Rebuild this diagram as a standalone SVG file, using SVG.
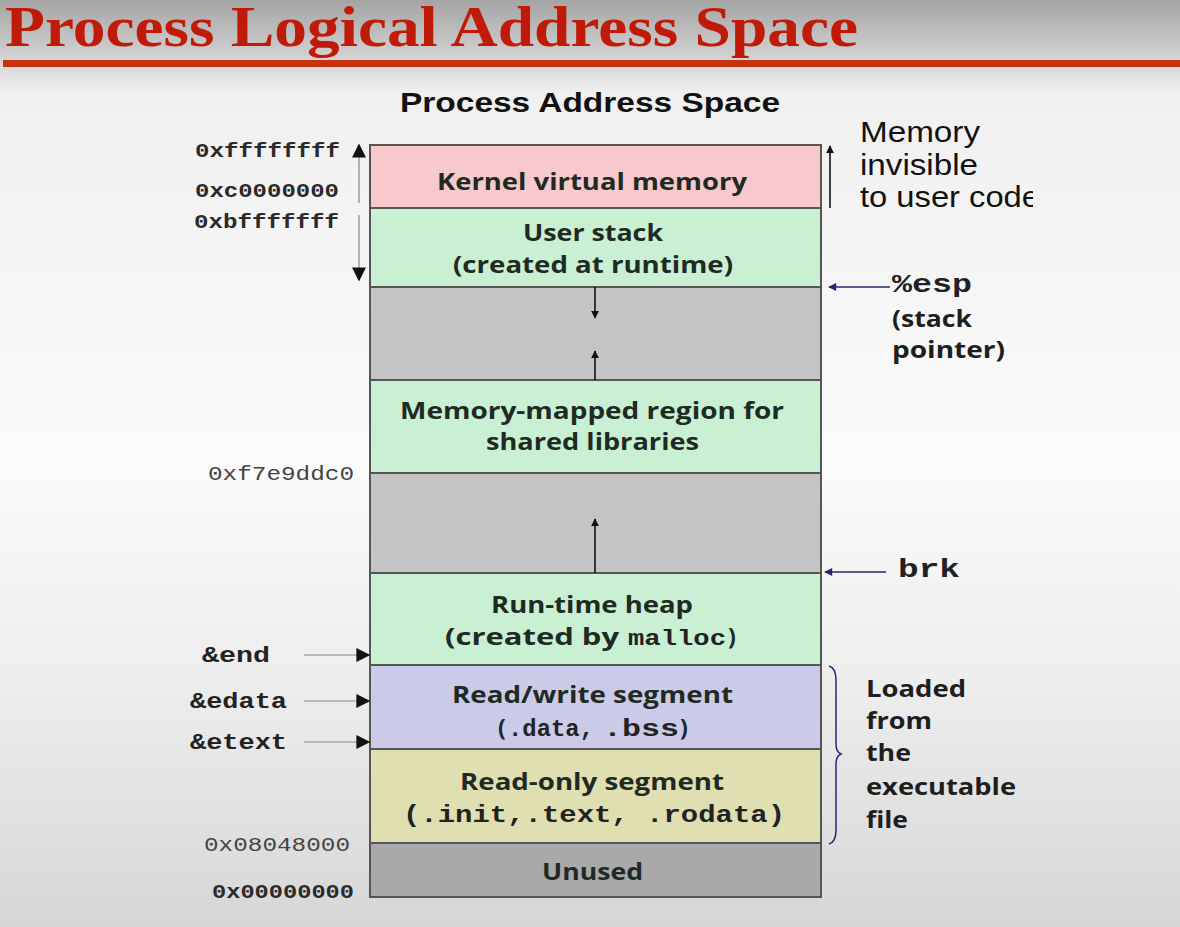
<svg xmlns="http://www.w3.org/2000/svg" width="1180" height="927" viewBox="0 0 1180 927">
<defs>
<linearGradient id="bg" x1="0" y1="0" x2="0" y2="1">
<stop offset="0" stop-color="#a4a4a4"/>
<stop offset="0.07" stop-color="#d8d8d8"/>
<stop offset="0.1" stop-color="#f0f0f0"/>
<stop offset="0.5" stop-color="#fbfbfb"/>
<stop offset="0.75" stop-color="#ececec"/>
<stop offset="1" stop-color="#d6d6d6"/>
</linearGradient>
<marker id="ah" viewBox="0 0 10 10" refX="9" refY="5" markerWidth="8" markerHeight="8" markerUnits="userSpaceOnUse" orient="auto"><path d="M0,0 L10,5 L0,10 z" fill="#111"/></marker>
<marker id="ahBig" viewBox="0 0 10 10" refX="9" refY="5" markerWidth="22" markerHeight="14" markerUnits="userSpaceOnUse" orient="auto"><path d="M0,0 L10,5 L0,10 z" fill="#111"/></marker>
<marker id="ahNavy" viewBox="0 0 10 10" refX="9" refY="5" markerWidth="10" markerHeight="8" markerUnits="userSpaceOnUse" orient="auto"><path d="M0,0 L10,5 L0,10 z" fill="#2a2470"/></marker>
<clipPath id="clipR"><rect x="0" y="0" width="1033" height="927"/></clipPath>
<style>
.seg{stroke:#555;stroke-width:2}
.lbl{font-family:"Open Sans",Lato,"Liberation Sans",sans-serif;font-weight:700;font-size:23px;fill:#1e2a22}
.mono{font-family:"Liberation Mono","DejaVu Sans Mono",monospace;font-weight:700;fill:#222}
.addr{font-family:"Liberation Mono","DejaVu Sans Mono",monospace;font-weight:700;font-size:21px;fill:#2a2a2a}
.addrL{font-family:"Liberation Mono","DejaVu Sans Mono",monospace;font-weight:400;font-size:20px;fill:#444}
.side{font-family:"Open Sans",Lato,"Liberation Sans",sans-serif;font-weight:700;font-size:24px;fill:#1e1e1e}
.thin{stroke:#111;stroke-width:1.6;fill:none}
.gr{stroke:#888;stroke-width:1.2;fill:none}
</style>
</defs>
<rect x="0" y="0" width="1180" height="927" fill="url(#bg)"/>
<text x="5" y="46" font-family="'Liberation Serif',serif" font-weight="700" font-size="58" fill="#c01a08" textLength="853" lengthAdjust="spacingAndGlyphs">Process Logical Address Space</text>
<rect x="3" y="60" width="1177" height="7" fill="#c83210"/>
<text x="400" y="112" font-family="'Liberation Sans',Arial,sans-serif" font-weight="700" font-size="28" fill="#111" textLength="380" lengthAdjust="spacingAndGlyphs">Process Address Space</text>

<g id="kernel"><rect class="seg" x="370" y="145" width="451" height="63" fill="#f8c9cc"/>
<text class="lbl" x="437" y="190" textLength="310" lengthAdjust="spacingAndGlyphs">Kernel virtual memory</text></g>
<g id="user-stack"><rect class="seg" x="370" y="208" width="451" height="79" fill="#c9f0d3"/>
<text class="lbl" x="523" y="241" textLength="140" lengthAdjust="spacingAndGlyphs">User stack</text>
<text class="lbl" x="453" y="273" textLength="280" lengthAdjust="spacingAndGlyphs">(created at runtime)</text></g>
<g id="gap1"><rect class="seg" x="370" y="287" width="451" height="93" fill="#c4c4c4"/></g>
<g id="mmap"><rect class="seg" x="370" y="380" width="451" height="93" fill="#c9f0d3"/>
<text class="lbl" x="400" y="419" textLength="384" lengthAdjust="spacingAndGlyphs">Memory-mapped region for</text>
<text class="lbl" x="486" y="450" textLength="213" lengthAdjust="spacingAndGlyphs">shared libraries</text></g>
<g id="gap2"><rect class="seg" x="370" y="473" width="451" height="100" fill="#c4c4c4"/></g>
<g id="heap"><rect class="seg" x="370" y="573" width="451" height="92" fill="#c9f0d3"/>
<text class="lbl" x="491" y="613" textLength="202" lengthAdjust="spacingAndGlyphs">Run-time heap</text>
<text class="lbl" x="445" y="645" textLength="174" lengthAdjust="spacingAndGlyphs">(created by</text>
<text class="mono" x="628" y="645" font-size="22" textLength="98" lengthAdjust="spacingAndGlyphs">malloc</text>
<text class="lbl" x="728" y="645">)</text></g>
<g id="rw"><rect class="seg" x="370" y="665" width="451" height="84" fill="#cbcbe9"/>
<text class="lbl" x="452" y="703" textLength="281" lengthAdjust="spacingAndGlyphs">Read/write segment</text>
<text class="lbl" x="498" y="736">(</text>
<text class="mono" x="508" y="736" font-size="23" textLength="86" lengthAdjust="spacingAndGlyphs">.data,</text>
<text class="mono" x="603" y="736" font-size="23" textLength="76" lengthAdjust="spacingAndGlyphs">.bss</text>
<text class="lbl" x="680" y="736">)</text></g>
<g id="ro"><rect class="seg" x="370" y="749" width="451" height="94" fill="#dfdfb2"/>
<text class="lbl" x="460" y="790" textLength="264" lengthAdjust="spacingAndGlyphs">Read-only segment</text>
<text class="mono" x="403" y="822" font-size="23" textLength="382" lengthAdjust="spacingAndGlyphs">(.init,.text, .rodata)</text></g>
<g id="unused"><rect class="seg" x="370" y="843" width="451" height="54" fill="#a9a9a9"/>
<text class="lbl" x="542" y="880" textLength="101" lengthAdjust="spacingAndGlyphs">Unused</text></g>

<g id="connectors">
<line class="thin" x1="595" y1="287" x2="595" y2="318" marker-end="url(#ah)"/>
<line class="thin" x1="595" y1="380" x2="595" y2="351" marker-end="url(#ah)"/>
<line class="thin" x1="595" y1="573" x2="595" y2="519" marker-end="url(#ah)"/>
<line class="gr" x1="359" y1="203" x2="359" y2="145" marker-end="url(#ahBig)"/>
<line class="gr" x1="359" y1="215" x2="359" y2="280" marker-end="url(#ahBig)"/>
<line x1="830" y1="208" x2="830" y2="146" stroke="#111" stroke-width="1.6" marker-end="url(#ah)"/>
<line x1="890" y1="287" x2="829" y2="287" stroke="#2a2470" stroke-width="1.6" marker-end="url(#ahNavy)"/>
<line x1="886" y1="572" x2="825" y2="572" stroke="#2a2470" stroke-width="1.6" marker-end="url(#ahNavy)"/>
<line class="gr" x1="304" y1="655" x2="369" y2="655" marker-end="url(#ahBig)"/>
<line class="gr" x1="304" y1="701" x2="369" y2="701" marker-end="url(#ahBig)"/>
<line class="gr" x1="304" y1="742" x2="369" y2="742" marker-end="url(#ahBig)"/>
<path d="M829,666 Q836,668 836,680 L836,744 Q836,752 841,754 Q836,756 836,764 L836,830 Q836,842 829,844" fill="none" stroke="#2a2470" stroke-width="1.5"/>
</g>

<g id="addresses">
<text class="addr" x="195" y="157" textLength="145" lengthAdjust="spacingAndGlyphs">0xffffffff</text>
<text class="addr" x="195" y="197" textLength="144" lengthAdjust="spacingAndGlyphs">0xc0000000</text>
<text class="addr" x="194" y="228" textLength="145" lengthAdjust="spacingAndGlyphs">0xbfffffff</text>
<text class="addrL" x="208" y="480" textLength="146" lengthAdjust="spacingAndGlyphs">0xf7e9ddc0</text>
<text class="addrL" x="204" y="851" textLength="146" lengthAdjust="spacingAndGlyphs">0x08048000</text>
<text class="addr" x="212" y="898" textLength="142" lengthAdjust="spacingAndGlyphs">0x00000000</text>
<text class="mono" x="202" y="662" font-size="22" textLength="68" lengthAdjust="spacingAndGlyphs">&amp;end</text>
<text class="mono" x="190" y="708" font-size="22" textLength="97" lengthAdjust="spacingAndGlyphs">&amp;edata</text>
<text class="mono" x="190" y="749" font-size="22" textLength="97" lengthAdjust="spacingAndGlyphs">&amp;etext</text>
</g>

<g id="right-labels">
<g clip-path="url(#clipR)">
<text x="860" y="142" font-family="'Liberation Sans',Arial,sans-serif" font-size="29" fill="#111" textLength="120" lengthAdjust="spacingAndGlyphs">Memory</text>
<text x="860" y="175" font-family="'Liberation Sans',Arial,sans-serif" font-size="29" fill="#111" textLength="118" lengthAdjust="spacingAndGlyphs">invisible</text>
<text x="860" y="207" font-family="'Liberation Sans',Arial,sans-serif" font-size="29" fill="#111" textLength="180" lengthAdjust="spacingAndGlyphs">to user code</text>
</g>
<text class="mono" x="892" y="292" font-size="25" textLength="80" lengthAdjust="spacingAndGlyphs">%esp</text>
<text class="side" x="892" y="327" textLength="80" lengthAdjust="spacingAndGlyphs">(stack</text>
<text class="side" x="892" y="358" textLength="113" lengthAdjust="spacingAndGlyphs">pointer)</text>
<text class="mono" x="898" y="577" font-size="25" textLength="62" lengthAdjust="spacingAndGlyphs">brk</text>
<text class="side" x="866" y="697" textLength="100" lengthAdjust="spacingAndGlyphs">Loaded</text>
<text class="side" x="866" y="729" textLength="66" lengthAdjust="spacingAndGlyphs">from</text>
<text class="side" x="866" y="761" textLength="45" lengthAdjust="spacingAndGlyphs">the</text>
<text class="side" x="866" y="795" textLength="150" lengthAdjust="spacingAndGlyphs">executable</text>
<text class="side" x="866" y="828" textLength="42" lengthAdjust="spacingAndGlyphs">file</text>
</g>
</svg>
